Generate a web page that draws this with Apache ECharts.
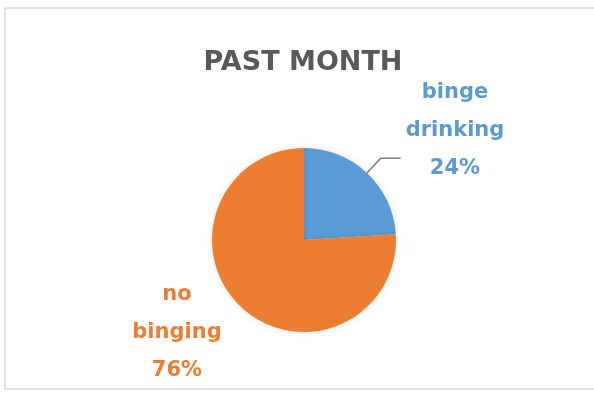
<!DOCTYPE html>
<html>
<head>
<meta charset="utf-8">
<script src="https://cdn.jsdelivr.net/npm/echarts@6/dist/echarts.min.js"></script>
<style>
  html, body { margin: 0; padding: 0; background: #fff; }
  #chart { width: 594px; height: 393px; }
</style>
</head>
<body>
<div id="chart"></div>
<script>
// Past-month binge drinking share
const categories = ['binge drinking', 'no binging'];
const values = [24, 76];
const colors = ['#5B9BD5', '#ED7D31'];
const titleText = 'PAST MONTH';

// label anchor points for each slice (pixels)
const labelSpots = [
  { x: 455, y: 131 },
  { x: 177, y: 333 }
];

const pieCenter = [304, 240];
const pieRadius = 92;
const FONT = '"DejaVu Sans", sans-serif';

const chart = echarts.init(document.getElementById('chart'));

chart.setOption({
  animation: false,
  title: {
    text: titleText,
    left: 298,
    top: 44,
    textAlign: 'center',
    textStyle: {
      fontFamily: FONT,
      fontWeight: 'bold',
      fontSize: 27,
      color: '#595959'
    }
  },
  graphic: [{
    type: 'rect',
    shape: { x: 5, y: 8, width: 620, height: 381 },
    style: { fill: 'none', stroke: '#d9d9d9', lineWidth: 1.5 },
    silent: true
  }],
  series: [{
    type: 'pie',
    center: pieCenter,
    radius: pieRadius,
    startAngle: 90,
    clockwise: true,
    itemStyle: {
      shadowBlur: 6,
      shadowColor: 'rgba(0,0,0,0.12)'
    },
    label: {
      show: true,
      position: 'outside',
      fontFamily: FONT,
      fontWeight: 'bold',
      fontSize: 21,
      lineHeight: 38,
      align: 'center',
      formatter: p => p.name.replace(' ', '\n') + '\n' + Math.round(p.percent) + '%'
    },
    labelLine: {
      show: true,
      smooth: false,
      lineStyle: { color: '#7f7f7f', width: 1.5 }
    },
    labelLayout: function (params) {
      const s = labelSpots[params.dataIndex];
      const out = { x: s.x, y: s.y, align: 'center', verticalAlign: 'middle' };
      if (params.dataIndex === 0) {
        // leader: radial stub out of the slice, then a short horizontal run
        let cum = 0;
        for (let i = 0; i < params.dataIndex; i++) cum += values[i];
        const total = values.reduce((a, b) => a + b, 0);
        const mid = ((cum + values[params.dataIndex] / 2) / total) * Math.PI * 2;
        const sx = pieCenter[0] + pieRadius * Math.sin(mid);
        const sy = pieCenter[1] - pieRadius * Math.cos(mid);
        const stub = 20;
        const bx = sx + stub * Math.sin(mid);
        const by = sy - stub * Math.cos(mid);
        out.labelLinePoints = [[sx, sy], [bx, by], [bx + 20, by]];
      }
      return out;
    },
    data: categories.map((name, i) => ({
      name: name,
      value: values[i],
      itemStyle: { color: colors[i] },
      label: { color: colors[i] },
      labelLine: { show: i === 0 }
    }))
  }]
});
</script>
</body>
</html>
